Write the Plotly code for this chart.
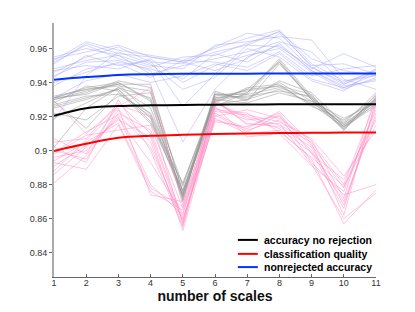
import plotly.graph_objects as go

scales = [1, 2, 3, 4, 5, 6, 7, 8, 9, 10, 11]

blue_runs = [
    [0.953, 0.964, 0.959, 0.956, 0.953, 0.960, 0.966, 0.971, 0.951, 0.941, 0.944],
    [0.951, 0.963, 0.957, 0.955, 0.952, 0.958, 0.962, 0.970, 0.949, 0.939, 0.946],
    [0.946, 0.955, 0.961, 0.952, 0.951, 0.961, 0.969, 0.966, 0.948, 0.957, 0.949],
    [0.944, 0.952, 0.953, 0.947, 0.905, 0.936, 0.955, 0.962, 0.947, 0.937, 0.945],
    [0.947, 0.950, 0.948, 0.954, 0.940, 0.950, 0.956, 0.960, 0.946, 0.936, 0.943],
    [0.955, 0.960, 0.956, 0.950, 0.948, 0.962, 0.964, 0.967, 0.965, 0.942, 0.936],
    [0.938, 0.948, 0.951, 0.943, 0.953, 0.952, 0.949, 0.958, 0.944, 0.948, 0.950],
    [0.918, 0.944, 0.958, 0.951, 0.936, 0.943, 0.960, 0.955, 0.941, 0.935, 0.948],
    [0.954, 0.958, 0.962, 0.955, 0.952, 0.947, 0.954, 0.969, 0.950, 0.951, 0.945],
    [0.940, 0.946, 0.952, 0.948, 0.942, 0.957, 0.952, 0.963, 0.947, 0.938, 0.941],
    [0.943, 0.956, 0.950, 0.953, 0.926, 0.945, 0.962, 0.961, 0.949, 0.940, 0.947],
    [0.948, 0.953, 0.956, 0.945, 0.950, 0.954, 0.958, 0.964, 0.958, 0.939, 0.948],
    [0.931, 0.941, 0.945, 0.940, 0.944, 0.951, 0.947, 0.957, 0.942, 0.937, 0.942],
    [0.952, 0.962, 0.954, 0.949, 0.955, 0.956, 0.963, 0.970, 0.954, 0.947, 0.944],
]

gray_runs = [
    [0.931, 0.937, 0.940, 0.930, 0.873, 0.931, 0.934, 0.954, 0.932, 0.914, 0.931],
    [0.930, 0.935, 0.939, 0.921, 0.876, 0.930, 0.936, 0.952, 0.930, 0.915, 0.930],
    [0.932, 0.936, 0.938, 0.935, 0.871, 0.933, 0.931, 0.940, 0.929, 0.913, 0.928],
    [0.925, 0.930, 0.936, 0.917, 0.881, 0.929, 0.933, 0.937, 0.931, 0.917, 0.932],
    [0.929, 0.913, 0.934, 0.920, 0.874, 0.927, 0.930, 0.936, 0.928, 0.916, 0.929],
    [0.902, 0.925, 0.937, 0.931, 0.880, 0.932, 0.935, 0.938, 0.933, 0.912, 0.933],
    [0.931, 0.933, 0.940, 0.929, 0.870, 0.935, 0.929, 0.951, 0.930, 0.915, 0.927],
    [0.928, 0.938, 0.935, 0.916, 0.877, 0.928, 0.937, 0.939, 0.926, 0.918, 0.930],
    [0.922, 0.918, 0.932, 0.934, 0.872, 0.931, 0.932, 0.935, 0.932, 0.914, 0.926],
    [0.931, 0.936, 0.939, 0.939, 0.875, 0.926, 0.934, 0.953, 0.931, 0.913, 0.931],
    [0.927, 0.932, 0.933, 0.922, 0.879, 0.930, 0.928, 0.934, 0.929, 0.919, 0.928],
    [0.919, 0.928, 0.937, 0.925, 0.874, 0.934, 0.930, 0.941, 0.934, 0.916, 0.934],
    [0.930, 0.934, 0.941, 0.937, 0.876, 0.929, 0.936, 0.938, 0.927, 0.914, 0.929],
    [0.926, 0.931, 0.936, 0.919, 0.873, 0.933, 0.933, 0.952, 0.930, 0.912, 0.930],
]

pink_runs = [
    [0.929, 0.910, 0.926, 0.937, 0.868, 0.928, 0.920, 0.915, 0.905, 0.880, 0.930],
    [0.905, 0.907, 0.928, 0.910, 0.858, 0.925, 0.918, 0.920, 0.903, 0.878, 0.924],
    [0.900, 0.895, 0.924, 0.905, 0.856, 0.922, 0.912, 0.918, 0.900, 0.870, 0.920],
    [0.896, 0.900, 0.920, 0.880, 0.862, 0.930, 0.915, 0.916, 0.892, 0.860, 0.875],
    [0.893, 0.889, 0.915, 0.876, 0.865, 0.919, 0.910, 0.912, 0.895, 0.857, 0.877],
    [0.891, 0.903, 0.918, 0.908, 0.853, 0.920, 0.924, 0.919, 0.906, 0.872, 0.933],
    [0.881, 0.897, 0.922, 0.912, 0.860, 0.917, 0.914, 0.922, 0.898, 0.883, 0.918],
    [0.888, 0.906, 0.925, 0.874, 0.870, 0.926, 0.908, 0.910, 0.891, 0.876, 0.926],
    [0.898, 0.909, 0.912, 0.915, 0.866, 0.923, 0.921, 0.917, 0.907, 0.885, 0.912],
    [0.902, 0.893, 0.930, 0.900, 0.855, 0.928, 0.919, 0.913, 0.899, 0.866, 0.928],
    [0.886, 0.902, 0.919, 0.893, 0.863, 0.921, 0.911, 0.921, 0.893, 0.874, 0.880],
    [0.907, 0.898, 0.927, 0.920, 0.857, 0.929, 0.916, 0.914, 0.902, 0.868, 0.922],
    [0.894, 0.905, 0.916, 0.878, 0.867, 0.924, 0.922, 0.911, 0.896, 0.879, 0.915],
    [0.899, 0.911, 0.921, 0.902, 0.859, 0.918, 0.913, 0.923, 0.904, 0.862, 0.930],
]

accuracy_no_rejection = [0.9204, 0.9249, 0.9262, 0.9266, 0.9268, 0.9270, 0.9271, 0.9272, 0.9272, 0.9273, 0.9273]
classification_quality = [0.8998, 0.9040, 0.9075, 0.9087, 0.9093, 0.9097, 0.9100, 0.9103, 0.9105, 0.9106, 0.9107]
nonrejected_accuracy = [0.9416, 0.9432, 0.9445, 0.9449, 0.9451, 0.9452, 0.9452, 0.9453, 0.9453, 0.9453, 0.9453]

y_ticks = [0.84, 0.86, 0.88, 0.9, 0.92, 0.94, 0.96]
y_tick_labels = ["0.84", "0.86", "0.88", "0.9", "0.92", "0.94", "0.96"]

legend_names = ["accuracy no rejection", "classification quality", "nonrejected accuracy"]
legend_colors = ["#000000", "#ff0000", "#0033ff"]

fig = go.Figure()

def add_runs(runs, color):
    for r in runs:
        fig.add_trace(go.Scatter(x=scales, y=r, mode="lines", showlegend=False,
                                 hoverinfo="skip", line=dict(color=color, width=1)))

add_runs(gray_runs, "rgba(150,150,150,0.5)")
add_runs(blue_runs, "rgba(160,160,255,0.45)")
add_runs(pink_runs, "rgba(255,140,195,0.5)")

for name, ys, col in zip(legend_names,
                         [accuracy_no_rejection, classification_quality, nonrejected_accuracy],
                         legend_colors):
    fig.add_trace(go.Scatter(x=scales, y=ys, mode="lines", name=name, showlegend=False,
                             line=dict(color=col, width=2, shape="spline")))

# compact legend (MATLAB-style) in paper coordinates
leg_x0, leg_x1, leg_tx = 0.571, 0.633, 0.646
leg_rows = [0.146, 0.091, 0.039]
for name, col, yy in zip(legend_names, legend_colors, leg_rows):
    fig.add_shape(type="line", xref="paper", yref="paper", x0=leg_x0, x1=leg_x1,
                  y0=yy, y1=yy, line=dict(color=col, width=2))
    fig.add_annotation(xref="paper", yref="paper", x=leg_tx, y=yy, text="<b>%s</b>" % name,
                       showarrow=False, xanchor="left", yanchor="middle",
                       font=dict(size=10.5, color="#000"))

fig.update_layout(
    width=415, height=312,
    margin=dict(l=46, r=47, t=15, b=43),
    paper_bgcolor="white", plot_bgcolor="white",
    showlegend=False,
    font=dict(family="Liberation Sans, Arial, sans-serif", color="#222"),
    xaxis=dict(range=[1, 11], tickmode="array", tickvals=scales,
               ticktext=[str(s) for s in scales],
               showgrid=False, zeroline=False, showline=True, linecolor="#666", linewidth=1,
               ticks="inside", ticklen=3, tickcolor="#666",
               tickfont=dict(size=9, color="#333"), ticklabelstandoff=-3,
               title=dict(text="<b>number of scales</b>", font=dict(size=14, color="#111"),
                          standoff=0)),
    yaxis=dict(range=[0.8257, 0.975], tickmode="array", tickvals=y_ticks,
               ticktext=y_tick_labels,
               showgrid=False, zeroline=False, showline=True, linecolor="#aaa", linewidth=2,
               ticks="outside", ticklen=3, tickcolor="#666",
               tickfont=dict(size=9, color="#333")),
)

fig.write_html("out.html")
